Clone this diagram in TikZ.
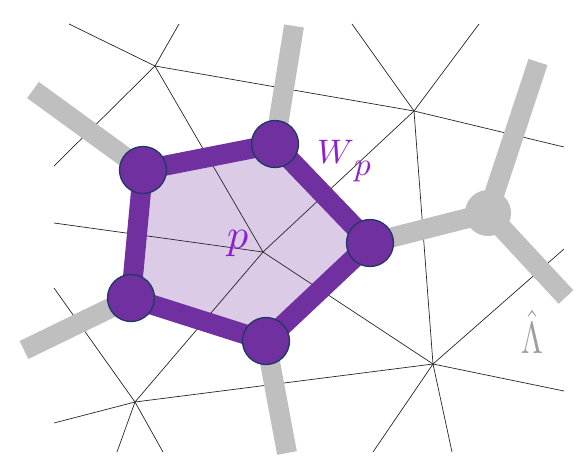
\documentclass[tikz,border=0pt]{standalone}
\usepackage{amsmath,amssymb}
\usepackage{graphicx}
\usepackage{xcolor}
\usepackage{tikz}
\definecolor{plaq}{HTML}{7030A0}
\definecolor{violetlab}{HTML}{8A22CC}
\definecolor{dual}{HTML}{BFBFBF}
\definecolor{rim}{HTML}{1F3864}
\definecolor{hatgray}{HTML}{A0A0A0}

\begin{document}
\begin{tikzpicture}[x=1pt,y=-1pt,
    lat/.style={line width=0.7pt,black!85},
    bar/.style={line width=20pt,dual},
    site/.style={circle,fill=plaq,draw=rim,line width=1.3pt,minimum size=47pt,inner sep=0pt},
    hub/.style={circle,fill=dual,minimum size=46pt,inner sep=0pt}]
          \useasboundingbox (0,0) rectangle (581,459);
          \foreach \n/\x/\y in {A/155/66,B/414/111,C/433/364,D/135/402,P/263/252,
              a1/69/24,a2/179/24,a3/54/166,b1/352/24,b2/479/24,b3/564/147,
              c1/564/249,c2/564/391,c3/373/452,c4/452/452,
              d1/54/423,d2/117/452,d3/163/452,d4/54/288,p1/54/223}
            \coordinate (\n) at (\x,\y);
          \foreach \n/\x/\y in {v1/143/170,v2/275/144,v3/370/243,v4/266/341,v5/131/298,h0/488/213,
              g1/33/90,g2/294/26,g3/538/62,g4/566/297,g5/287/453,g6/24/350}
            \coordinate (\n) at (\x,\y);
          \fill[plaq!25] (v1) -- (v2) -- (v3) -- (v4) -- (v5) -- cycle;
          \foreach \s/\t in {A/a1,A/a2,A/a3,A/B,A/P,B/b1,B/b2,B/b3,B/C,B/P,
              C/P,C/D,C/c1,C/c2,C/c3,C/c4,D/P,D/d1,D/d2,D/d3,D/d4,P/p1}
            \draw[lat] (\s) -- (\t);
          \foreach \s/\t in {v1/g1,v2/g2,v3/h0,h0/g3,h0/g4,v4/g5,v5/g6}
            \draw[bar] (\s) -- (\t);
          \node[hub] (hb) at (h0) {};
          \draw[plaq,line width=20pt,line join=round] (v1) -- (v2) -- (v3) -- (v4) -- (v5) -- cycle;
          \foreach \v in {1,...,5}
            \node[site] (s\v) at (v\v) {};
          \node[violetlab,anchor=base west,inner sep=0pt] (wlab) at (317,163)
            {\scalebox{3.4}{$W$}\raisebox{-12pt}{\scalebox{3.3}{$p$}}};
          \node[violetlab,anchor=base west,inner sep=0pt] (plab) at (227,248) {\scalebox{4.2}{$p$}};
          \node[hatgray,anchor=base,inner sep=0pt] (lam) at (532,353)
            {\scalebox{3.2}[4.5]{$\hat{\Lambda}$}};
        \end{tikzpicture}
\end{document}
